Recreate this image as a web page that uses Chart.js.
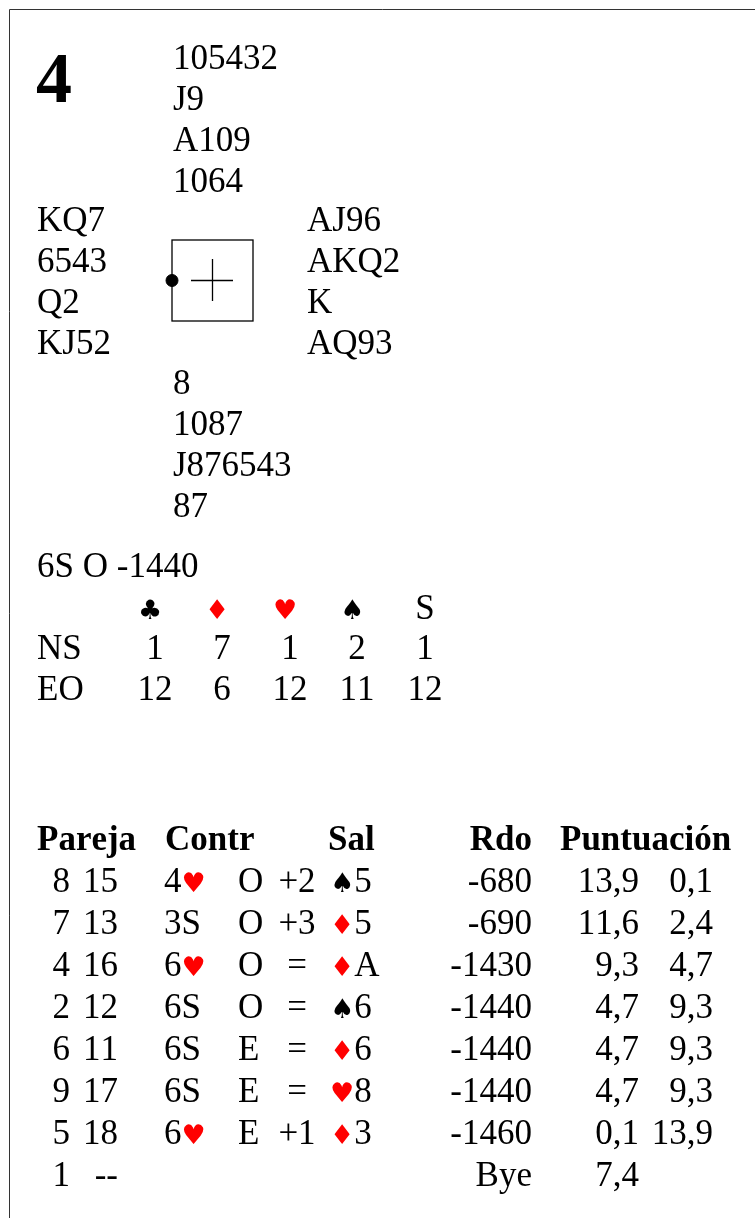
<!DOCTYPE html>
<html lang="es">
<head>
<meta charset="UTF-8">
<title>Mano 4</title>
<script src="https://cdn.jsdelivr.net/npm/chart.js"></script>
<style>
  html, body { margin: 0; padding: 0; background: #fff; }
  canvas { display: block; }
</style>
</head>
<body>
<canvas id="board" width="755" height="1218"></canvas>
<script>
// board data
const boardNumber = '4';
const north = ['105432', 'J9', 'A109', '1064'];
const west = ['KQ7', '6543', 'Q2', 'KJ52'];
const east = ['AJ96', 'AKQ2', 'K', 'AQ93'];
const south = ['8', '1087', 'J876543', '87'];
const parText = '6S O -1440';

// makeable contracts
const parSuits = ['♣', '♦', '♥', '♠', 'S'];
const parRows = ['NS', 'EO'];
const nsTricks = [1, 7, 1, 2, 1];
const eoTricks = [12, 6, 12, 11, 12];

// results table
const headers = ['Pareja', 'Contr', 'Sal', 'Rdo', 'Puntuación'];
const pairNS = ['8', '7', '4', '2', '6', '9', '5', '1'];
const pairEO = ['15', '13', '16', '12', '11', '17', '18', '--'];
const contracts = ['4♥', '3S', '6♥', '6S', '6S', '6S', '6♥', ''];
const declarers = ['O', 'O', 'O', 'O', 'E', 'E', 'E', ''];
const results = ['+2', '+3', '=', '=', '=', '=', '+1', ''];
const leads = ['♠5', '♦5', '♦A', '♠6', '♦6', '♥8', '♦3', ''];
const scores = ['-680', '-690', '-1430', '-1440', '-1440', '-1440', '-1460', 'Bye'];
const ptsNS = ['13,9', '11,6', '9,3', '4,7', '4,7', '4,7', '0,1', '7,4'];
const ptsEO = ['0,1', '2,4', '4,7', '9,3', '9,3', '9,3', '13,9', ''];

const TXT = "35px 'Liberation Serif', 'Times New Roman', serif";
const BOLD = "bold 35px 'Liberation Serif', 'Times New Roman', serif";
const SUIT = "27px 'DejaVu Sans', sans-serif";
const RED = '#ff0000';

function isSuit(c) { return '♣♦♥♠'.includes(c); }

// draws text, suit symbols in their own font and colour
function drawRich(ctx, str, x, y, align, font) {
    font = font || TXT;
    const parts = Array.from(str).map(c => ({
        c: c,
        f: isSuit(c) ? SUIT : font,
        col: (c === '♦' || c === '♥') ? RED : '#000'
    }));
    let total = 0;
    parts.forEach(p => { ctx.font = p.f; p.w = ctx.measureText(p.c).width; total += p.w; });
    let cx = x;
    if (align === 'right') cx = x - total;
    if (align === 'center') cx = x - total / 2;
    ctx.textAlign = 'left';
    ctx.textBaseline = 'alphabetic';
    parts.forEach(p => {
        ctx.font = p.f;
        ctx.fillStyle = p.col;
        ctx.fillText(p.c, cx, y);
        cx += p.w;
    });
}

const boardPlugin = {
    id: 'boardText',
    beforeDatasetsDraw(chart) {
        const ctx = chart.ctx;
        const sx = v => chart.scales.x.getPixelForValue(v);
        const sy = v => chart.scales.y.getPixelForValue(v);
        ctx.save();
        // frame
        ctx.strokeStyle = '#333';
        ctx.lineWidth = 1;
        ctx.beginPath();
        ctx.moveTo(sx(9.5), sy(1218));
        ctx.lineTo(sx(9.5), sy(9.5));
        ctx.lineTo(sx(755), sy(9.5));
        ctx.stroke();
        // compass box
        ctx.strokeStyle = '#000';
        ctx.lineWidth = 1.3;
        ctx.strokeRect(sx(172), sy(240), sx(253) - sx(172), sy(321) - sy(240));
        ctx.beginPath();
        ctx.moveTo(sx(191), sy(280.5)); ctx.lineTo(sx(233), sy(280.5));
        ctx.moveTo(sx(212.5), sy(259)); ctx.lineTo(sx(212.5), sy(301));
        ctx.stroke();
        ctx.restore();
    },
    afterDraw(chart) {
        const ctx = chart.ctx;
        const sx = v => chart.scales.x.getPixelForValue(v);
        const sy = v => chart.scales.y.getPixelForValue(v);
        ctx.save();

        ctx.font = "bold 72px 'Liberation Serif', serif";
        ctx.fillStyle = '#000';
        ctx.fillText(boardNumber, sx(36), sy(102));

        north.forEach((t, i) => drawRich(ctx, t, sx(173), sy(69 + i * 41), 'left'));
        west.forEach((t, i) => drawRich(ctx, t, sx(37), sy(231 + i * 41), 'left'));
        east.forEach((t, i) => drawRich(ctx, t, sx(307), sy(231 + i * 41), 'left'));
        south.forEach((t, i) => drawRich(ctx, t, sx(173), sy(394 + i * 41), 'left'));

        drawRich(ctx, parText, sx(37), sy(577), 'left');
        const parX = [155, 222, 290, 357, 425];
        parSuits.forEach((s, i) => drawRich(ctx, s, sx(parX[i] - (isSuit(s) ? 5 : 0)), sy(619), 'center'));
        [nsTricks, eoTricks].forEach((row, r) => {
            drawRich(ctx, parRows[r], sx(37), sy(659 + r * 41), 'left');
            row.forEach((v, i) => drawRich(ctx, String(v), sx(parX[i]), sy(659 + r * 41), 'center'));
        });

        // results table
        const hy = sy(850);
        drawRich(ctx, headers[0], sx(37), hy, 'left', BOLD);
        drawRich(ctx, headers[1], sx(165), hy, 'left', BOLD);
        drawRich(ctx, headers[2], sx(328), hy, 'left', BOLD);
        drawRich(ctx, headers[3], sx(532), hy, 'right', BOLD);
        drawRich(ctx, headers[4], sx(560), hy, 'left', BOLD);

        pairNS.forEach((p, i) => {
            const y = sy(892 + i * 42);
            drawRich(ctx, p, sx(70), y, 'right');
            drawRich(ctx, pairEO[i], sx(118), y, 'right');
            drawRich(ctx, contracts[i], sx(164), y, 'left');
            drawRich(ctx, declarers[i], sx(238), y, 'left');
            drawRich(ctx, results[i], sx(297), y, 'center');
            drawRich(ctx, leads[i], sx(330), y, 'left');
            drawRich(ctx, scores[i], sx(532), y, 'right');
            drawRich(ctx, ptsNS[i], sx(639), y, 'right');
            drawRich(ctx, ptsEO[i], sx(713), y, 'right');
        });
        ctx.restore();
    }
};

const chart = new Chart(document.getElementById('board').getContext('2d'), {
    type: 'scatter',
    data: {
        datasets: [{
            label: 'Dador',
            data: [{ x: 172, y: 280.5 }],
            pointRadius: 6,
            backgroundColor: '#000',
            borderColor: '#000'
        }]
    },
    options: {
        responsive: false,
        animation: false,
        layout: { padding: 0, autoPadding: false },
        plugins: { legend: { display: false }, tooltip: { enabled: false } },
        scales: {
            x: { type: 'linear', min: 0, max: 755, display: false },
            y: { type: 'linear', min: 0, max: 1218, reverse: true, display: false }
        }
    },
    plugins: [boardPlugin]
});
</script>
</body>
</html>
